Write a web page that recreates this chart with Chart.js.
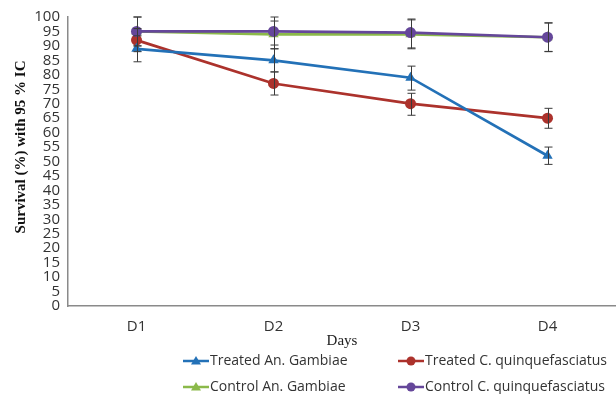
<!DOCTYPE html>
<html>
<head>
<meta charset="utf-8">
<script src="https://cdn.jsdelivr.net/npm/chart.js@4"></script>
<style>
  html, body { margin: 0; padding: 0; background: #fff; }
  #wrap { width: 616px; height: 394px; }
</style>
</head>
<body>
<div id="wrap"><canvas id="survival"></canvas></div>
<script>
// data
const days = ['D1', 'D2', 'D3', 'D4'];
const yTicks = [0, 5, 10, 15, 20, 25, 30, 35, 40, 45, 50, 55, 60, 65, 70, 75, 80, 85, 90, 95, 100];
const yTitle = 'Survival (%) with 95 % IC';

const treatedGambiae = [89, 85, 79, 52];
const treatedGambiaeLow = [84.5, 81, 74.7, 49];
const treatedGambiaeHigh = [93.5, 89, 83, 55];

const treatedQuinq = [92, 77, 70, 65];
const treatedQuinqLow = [88, 73, 66, 61.5];
const treatedQuinqHigh = [96, 81, 73.6, 68.4];

const controlGambiae = [95, 94, 94, 93];
const controlGambiaeLow = [90, 89, 89, 88];
const controlGambiaeHigh = [100, 98.6, 99, 98];

const controlQuinq = [95, 95, 94.6, 93];
const controlQuinqLow = [90, 90.3, 89.3, 88.1];
const controlQuinqHigh = [100, 100, 99.3, 97.9];

const blue = '#2371b7';
const red = '#ac322c';
const green = '#8bb94a';
const purple = '#65479a';

// error bars drawn through the scales
const errorBars = {
  id: 'errorBars',
  afterDatasetsDraw(chart) {
    const { ctx, scales: { x, y } } = chart;
    ctx.save();
    ctx.strokeStyle = '#3a3a3a';
    ctx.lineWidth = 1;
    chart.data.datasets.forEach(ds => {
      ds.data.forEach((v, i) => {
        const px = Math.round(x.getPixelForValue(i)) + 0.5;
        const top = y.getPixelForValue(ds.errHigh[i]);
        const bot = y.getPixelForValue(ds.errLow[i]);
        ctx.beginPath();
        ctx.moveTo(px, top); ctx.lineTo(px, bot);
        ctx.moveTo(px - 4, top); ctx.lineTo(px + 4, top);
        ctx.moveTo(px - 4, bot); ctx.lineTo(px + 4, bot);
        ctx.stroke();
      });
    });
    ctx.restore();
  }
};

// rotated y title, sits a bit above the axis middle as in the original
const sideTitle = {
  id: 'sideTitle',
  afterDraw(chart) {
    const { ctx } = chart;
    ctx.save();
    ctx.translate(21, 147);
    ctx.rotate(-Math.PI / 2);
    ctx.font = 'bold 15px "Liberation Serif", serif';
    ctx.fillStyle = '#111';
    ctx.textAlign = 'center';
    ctx.textBaseline = 'middle';
    ctx.fillText(yTitle, 0, 0);
    ctx.restore();
  }
};

// two-column legend under the axis
const gridLegend = {
  id: 'gridLegend',
  afterDraw(chart) {
    const { ctx } = chart;
    const cols = [183, 398];
    const rows = [361, 387];
    ctx.save();
    ctx.font = '14px "Open Sans", sans-serif';
    ctx.textBaseline = 'middle';
    chart.data.datasets.forEach((ds, i) => {
      const lx = cols[i % 2];
      const ly = rows[Math.floor(i / 2)];
      ctx.strokeStyle = ds.borderColor;
      ctx.lineWidth = 2.5;
      ctx.beginPath();
      ctx.moveTo(lx, ly); ctx.lineTo(lx + 26, ly);
      ctx.stroke();
      ctx.fillStyle = ds.borderColor;
      ctx.beginPath();
      if (ds.pointStyle === 'triangle') {
        ctx.moveTo(lx + 13, ly - 5); ctx.lineTo(lx + 18, ly + 3.5); ctx.lineTo(lx + 8, ly + 3.5);
      } else {
        ctx.arc(lx + 13, ly, 4.5, 0, Math.PI * 2);
      }
      ctx.fill();
      ctx.fillStyle = '#333';
      ctx.fillText(ds.label, lx + 27, ly);
    });
    ctx.restore();
  }
};

new Chart(document.getElementById('survival'), {
  type: 'line',
  data: {
    labels: days,
    datasets: [
      { label: 'Treated An. Gambiae', data: treatedGambiae, errLow: treatedGambiaeLow, errHigh: treatedGambiaeHigh,
        borderColor: blue, backgroundColor: blue, pointStyle: 'triangle', pointRadius: 6, order: 3 },
      { label: 'Treated C. quinquefasciatus', data: treatedQuinq, errLow: treatedQuinqLow, errHigh: treatedQuinqHigh,
        borderColor: red, backgroundColor: red, pointStyle: 'circle', pointRadius: 5.5, order: 4 },
      { label: 'Control An. Gambiae', data: controlGambiae, errLow: controlGambiaeLow, errHigh: controlGambiaeHigh,
        borderColor: green, backgroundColor: green, pointStyle: 'triangle', pointRadius: 6, order: 2 },
      { label: 'Control C. quinquefasciatus', data: controlQuinq, errLow: controlQuinqLow, errHigh: controlQuinqHigh,
        borderColor: purple, backgroundColor: purple, pointStyle: 'circle', pointRadius: 5.5, order: 1 }
    ]
  },
  options: {
    responsive: true,
    maintainAspectRatio: false,
    animation: false,
    elements: {
      line: { borderWidth: 2.7, tension: 0 },
      point: { borderWidth: 0 }
    },
    layout: { autoPadding: false, padding: { top: 17, right: 0, bottom: 44, left: 0 } },
    scales: {
      x: {
        offset: true,
        grid: { display: false, drawTicks: false },
        border: { color: '#8a8a8a', width: 1.5 },
        ticks: { color: '#333', font: { family: 'Open Sans', size: 15 }, padding: 12 },
        title: { display: true, text: 'Days', color: '#222', font: { family: 'Liberation Serif', size: 15 }, padding: { top: 0, bottom: 0 } },
        afterFit(scale) {
          scale.height = 44;
          scale.paddingLeft = 0;
          scale.paddingRight = 0;
        }
      },
      y: {
        min: 0,
        max: 100,
        afterBuildTicks(scale) { scale.ticks = yTicks.map(v => ({ value: v })); },
        grid: { display: false, drawTicks: false },
        border: { color: '#8a8a8a', width: 1.5 },
        ticks: { autoSkip: false, color: '#333', font: { family: 'Open Sans', size: 15 }, padding: 8 },
        afterFit(scale) { scale.width = 68; }
      }
    },
    plugins: {
      legend: { display: false },
      tooltip: { enabled: false }
    }
  },
  plugins: [errorBars, sideTitle, gridLegend]
});
</script>
</body>
</html>
